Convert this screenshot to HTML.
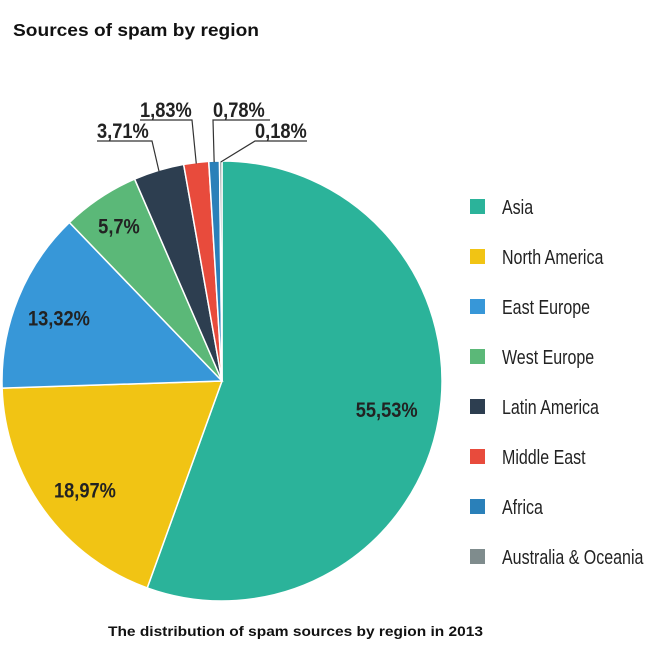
<!DOCTYPE html>
<html><head><meta charset="utf-8">
<style>
body{margin:0;background:#fff;}
#wrap{position:relative;width:650px;height:659px;overflow:hidden;font-family:"Liberation Sans",sans-serif;}
</style></head>
<body>
<div id="wrap">
<svg id="svg" width="650" height="659" viewBox="0 0 650 659">
<text x="13" y="36" textLength="246" lengthAdjust="spacingAndGlyphs" font-family="Liberation Sans, sans-serif" font-weight="bold" font-size="17.5" fill="#111">Sources of spam by region</text>
<text x="108" y="636" textLength="375" lengthAdjust="spacingAndGlyphs" font-family="Liberation Sans, sans-serif" font-weight="bold" font-size="13.5" fill="#111">The distribution of spam sources by region in 2013</text>
<g id="slices"></g>
<g id="labels"></g>
<g id="legend"></g>
</svg>
</div>
<script>
const categories=["Asia","North America","East Europe","West Europe","Latin America","Middle East","Africa","Australia & Oceania"];
const values=[55.53,18.97,13.32,5.7,3.71,1.83,0.78,0.18];
const valueLabels=["55,53%","18,97%","13,32%","5,7%","3,71%","1,83%","0,78%","0,18%"];
const colors=["#2bb39a","#f1c414","#3797d8","#5bb878","#2d3e50","#e84b3c","#2a80b9","#7f8c8d"];
const NS="http://www.w3.org/2000/svg";
const cx=222,cy=381,R=220;
const fam='"Liberation Sans",sans-serif';
function mk(tag,attrs,parent){const e=document.createElementNS(NS,tag);for(const k in attrs)e.setAttribute(k,attrs[k]);parent.appendChild(e);return e;}
function pt(angDeg,r){const a=(angDeg-90)*Math.PI/180;return [cx+r*Math.cos(a),cy+r*Math.sin(a)];}
function label(parent,x,y,txt,size,bold,anchor,sx){
  const g=mk('g',{transform:`translate(${x},${y}) scale(${sx},1)`},parent);
  const t=mk('text',{x:0,y:0,'text-anchor':anchor,'font-family':fam,'font-weight':bold?'bold':'normal','font-size':size,fill:'#222'},g);
  t.textContent=txt;return t;
}
const total=values.reduce((a,b)=>a+b,0);
const gS=document.getElementById('slices'),gL=document.getElementById('labels'),gG=document.getElementById('legend');
let acc=0;const mids=[];
values.forEach((v,i)=>{
  const a0=acc/total*360,a1=(acc+v)/total*360;acc+=v;
  mids.push((a0+a1)/2);
  const p0=pt(a0,R),p1=pt(a1,R);
  const large=(a1-a0)>180?1:0;
  const p=mk('path',{d:`M${cx},${cy} L${p0[0]},${p0[1]} A${R},${R} 0 ${large} 1 ${p1[0]},${p1[1]} Z`,fill:colors[i],stroke:'#fff','stroke-width':1.5},gS);
  
  
});
// [index, radius fraction, extra dy]
const inside=[[0,0.76,0],[1,0.77,10],[2,0.8,4],[3,0.845,0]];
inside.forEach(([i,f,dy])=>{
  const q=pt(mids[i],R*f);
  const t=label(gL,q[0],q[1]+dy+7,valueLabels[i],21,true,'middle',0.87);
  
  
});
const outside=[[4,97,141,97,152,152],[5,140,120,140,192,192],[6,213,120,213,270,213],[7,255,141,255,307,255]];
outside.forEach(([i,tx,ty,ux0,ux1,ex])=>{
  const q=pt(mids[i],R-1);
  const t=label(gL,tx,ty-3,valueLabels[i],21,true,'start',0.87);
  
  
  let pts=`${ux0},${ty} ${ux1},${ty} ${q[0]},${q[1]}`;
  if(i===6||i===7) pts=`${ux1},${ty} ${ux0},${ty} ${q[0]},${q[1]}`;
  const l=mk('polyline',{points:pts,fill:'none',stroke:'#333','stroke-width':1.2},gL);
  
  
});
categories.forEach((c,i)=>{
  const y=207+i*50.0;
  const r=mk('rect',{x:470,y:y-8,width:15,height:15,fill:colors[i]},gG);
  
  
  const t=label(gG,502,y+7,c,20,false,'start',0.8);
  
  
});
</script>
</body></html>
